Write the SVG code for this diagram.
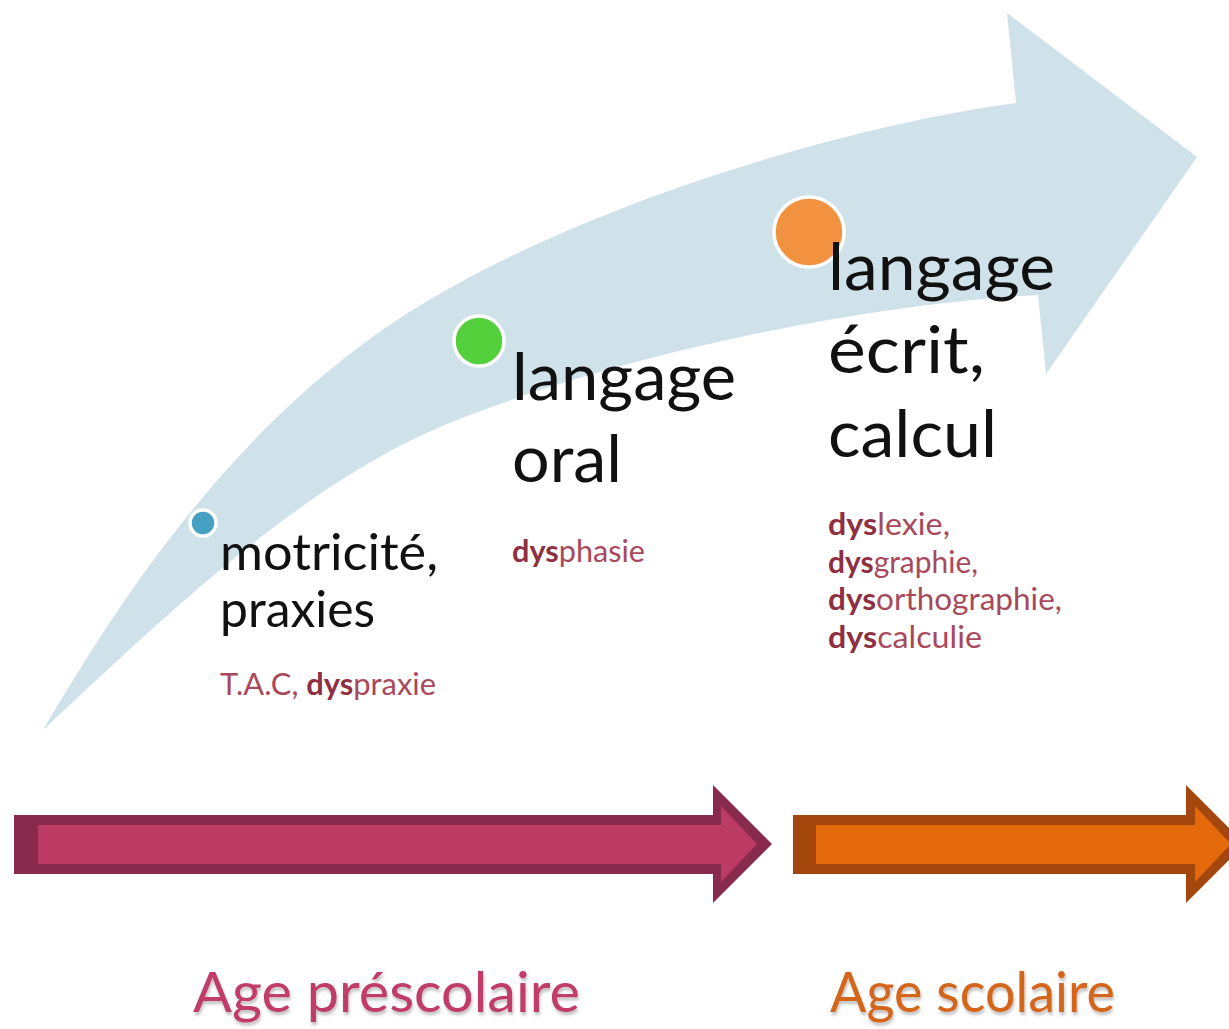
<svg xmlns="http://www.w3.org/2000/svg" width="1229" height="1029" viewBox="0 0 1229 1029">
<style>
.big{font-family:Lato,"Liberation Sans",sans-serif;fill:#111;font-size:65px}
.mid{font-family:Lato,"Liberation Sans",sans-serif;fill:#111;font-size:51px}
.red{font-family:Lato,"Liberation Sans",sans-serif;fill:#a8495c;font-size:30px}
.red .b{font-weight:bold;fill:#8f2f42}
.age{font-family:Lato,"Liberation Sans",sans-serif;font-size:57px}
.dot{stroke:#fff;stroke-width:3.5}
</style>
<defs>
  <filter id="soft" x="-5%" y="-20%" width="110%" height="150%">
    <feDropShadow dx="1" dy="3" stdDeviation="1.5" flood-opacity="0.25"/>
  </filter>
</defs>
<rect width="1229" height="1029" fill="#fff"/>
<g id="connectors">
  <path id="big-arrow" fill="#cfe1e9" d="M43,730 C120,600 240,410 434,297 C600,200 850,125 1016,103 L1007,13 L1197,157 L1046,374 L1038,295 C850,305 600,360 440,427 C300,486 160,620 43,730 Z"/>
  <g id="arrow-prescolaire">
    <polygon fill="#872a4b" points="14,815 713,815 713,785 772,844 713,903 713,874 14,874"/>
    <polygon fill="#bb3b65" points="38,825 721,825 721,806 757,844 721,882 721,864 38,864"/>
  </g>
  <g id="arrow-scolaire">
    <polygon fill="#a4470f" points="793,815 1186,815 1186,785 1245,844 1186,903 1186,874 793,874"/>
    <polygon fill="#e3690b" points="816,825 1195,825 1195,806 1231,844 1195,882 1195,864 816,864"/>
  </g>
</g>
<g id="node-motricite">
  <circle class="dot" cx="203" cy="523" r="13" fill="#45a0c2"/>
  <text class="mid" x="220" y="570" textLength="218" lengthAdjust="spacingAndGlyphs">motricité,</text>
  <text class="mid" x="220" y="627" textLength="155" lengthAdjust="spacingAndGlyphs">praxies</text>
  <text class="red" x="220" y="695" textLength="216" lengthAdjust="spacingAndGlyphs">T.A.C, <tspan class="b">dys</tspan>praxie</text>
</g>
<g id="node-oral">
  <circle class="dot" cx="479" cy="341" r="25" fill="#55d03d"/>
  <text class="big" x="512" y="400" textLength="224" lengthAdjust="spacingAndGlyphs">langage</text>
  <text class="big" x="512" y="482" textLength="110" lengthAdjust="spacingAndGlyphs">oral</text>
  <text class="red" x="512" y="562" textLength="133" lengthAdjust="spacingAndGlyphs"><tspan class="b">dys</tspan>phasie</text>
</g>
<g id="node-ecrit">
  <circle class="dot" cx="809" cy="232" r="35" fill="#f2913f"/>
  <text class="big" x="828" y="290" textLength="227" lengthAdjust="spacingAndGlyphs">langage</text>
  <text class="big" x="828" y="373" textLength="157" lengthAdjust="spacingAndGlyphs">écrit,</text>
  <text class="big" x="828" y="457" textLength="169" lengthAdjust="spacingAndGlyphs">calcul</text>
  <text class="red" x="828" y="535" textLength="122" lengthAdjust="spacingAndGlyphs"><tspan class="b">dys</tspan>lexie,</text>
  <text class="red" x="828" y="573" textLength="150" lengthAdjust="spacingAndGlyphs"><tspan class="b">dys</tspan>graphie,</text>
  <text class="red" x="828" y="610" textLength="234" lengthAdjust="spacingAndGlyphs"><tspan class="b">dys</tspan>orthographie,</text>
  <text class="red" x="828" y="648" textLength="154" lengthAdjust="spacingAndGlyphs"><tspan class="b">dys</tspan>calculie</text>
</g>
<g id="label-prescolaire">
  <text class="age" x="193" y="1012" fill="#c03c6b" filter="url(#soft)" textLength="387" lengthAdjust="spacingAndGlyphs">Age préscolaire</text>
</g>
<g id="label-scolaire">
  <text class="age" x="830" y="1012" fill="#d4661f" filter="url(#soft)" textLength="285" lengthAdjust="spacingAndGlyphs">Age scolaire</text>
</g>
</svg>
